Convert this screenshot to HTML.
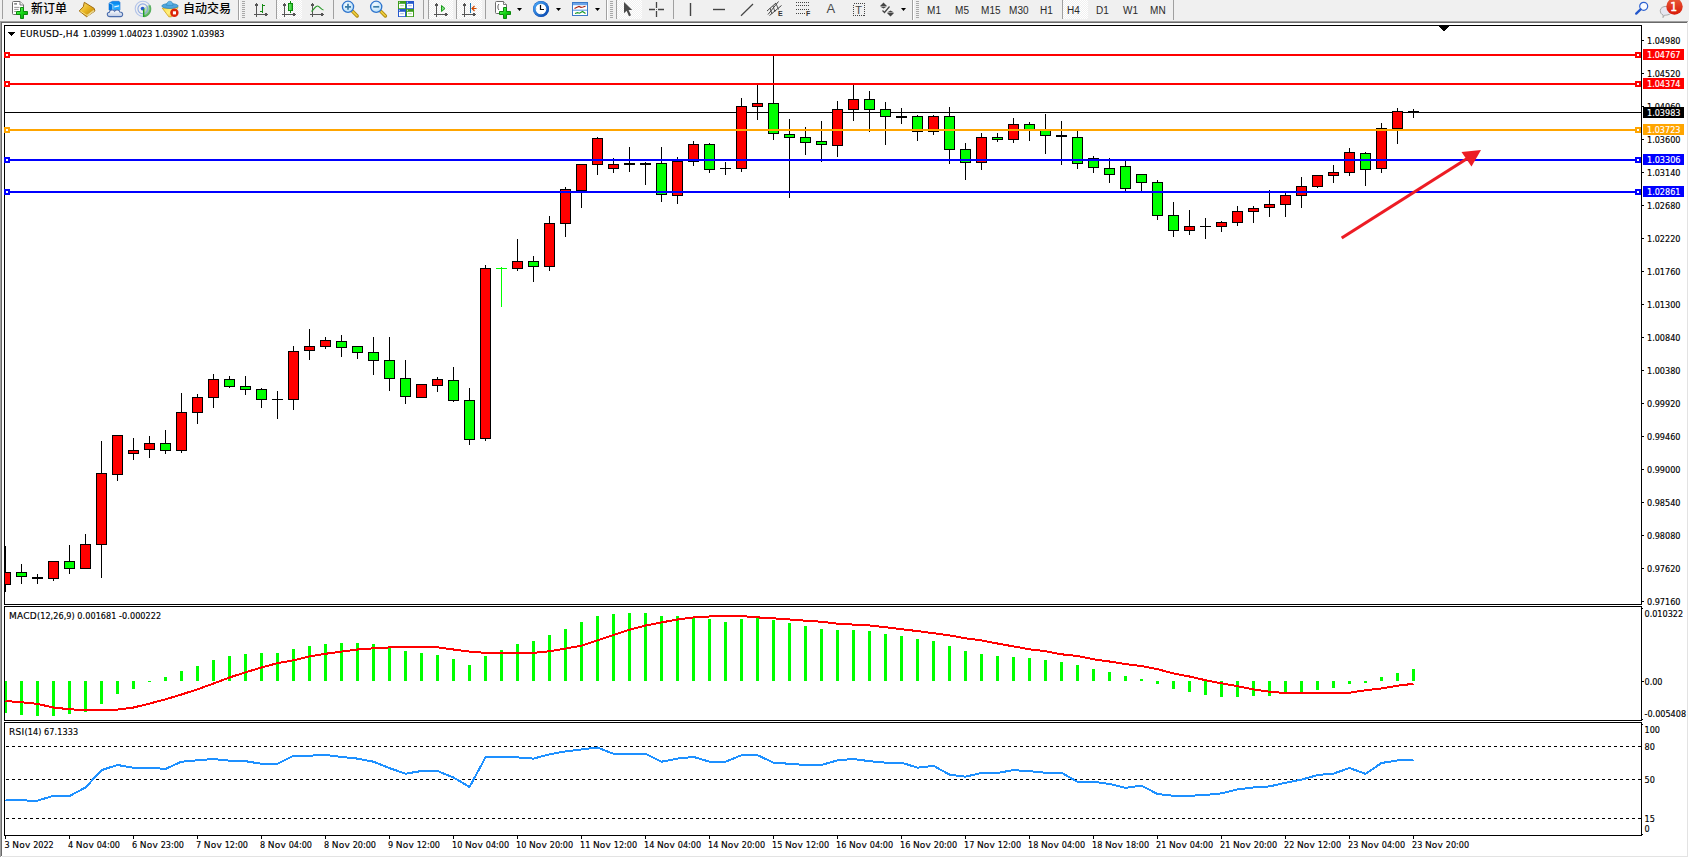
<!DOCTYPE html>
<html><head><meta charset="utf-8"><title>EURUSD-,H4</title>
<style>
html,body{margin:0;padding:0}
body{width:1689px;height:858px;background:#f0f0f0;position:relative;overflow:hidden;font-family:"Liberation Sans","Noto Sans CJK SC",sans-serif;color:#000}
#win{position:absolute;left:0;top:21px;width:1689px;height:837px;background:#fff}
#chart{position:absolute;left:0;top:0;width:1689px;height:858px}
.t{position:absolute;white-space:nowrap;font-family:"DejaVu Sans Condensed","Liberation Sans",sans-serif;font-size:9px;line-height:10px;height:10px;letter-spacing:0;-webkit-text-stroke:0.15px currentColor}
.tw{color:#fff}
.tt{letter-spacing:0}
.w{font-family:"DejaVu Sans","Liberation Sans",sans-serif;letter-spacing:.25px}
.tb{position:absolute;white-space:nowrap;font-size:10px;line-height:10px;color:#2a2a2a;letter-spacing:0.1px}
.cn{position:absolute;white-space:nowrap;font-size:12px;line-height:16px;color:#000;font-weight:500}
.ic{position:absolute;font-size:7px;line-height:8px;font-weight:bold;color:#333}
.ia{position:absolute;font-size:13px;line-height:15px;color:#4a4a4a}
.it{position:absolute;font-size:11px;line-height:12px;color:#444}
.bd{position:absolute;font-family:"DejaVu Sans Condensed","Liberation Sans",sans-serif;font-size:12px;line-height:12px;color:#fff;-webkit-text-stroke:0.45px #fff}
</style></head><body>

<div id="win"></div>
<svg id="chart" width="1689" height="858" viewBox="0 0 1689 858" shape-rendering="crispEdges">
<rect x="0" y="21" width="1688" height="1" fill="#a0a0a0"/>
<rect x="0" y="22" width="1687" height="1" fill="#696969"/>
<rect x="0" y="22" width="1" height="835" fill="#a0a0a0"/>
<rect x="1" y="22" width="1" height="834" fill="#696969"/>
<rect x="1687" y="22" width="1" height="835" fill="#e3e3e3"/>
<rect x="1688" y="21" width="1" height="837" fill="#fff"/>
<rect x="2" y="856" width="1686" height="1" fill="#e3e3e3"/>
<rect x="0" y="857" width="1689" height="1" fill="#fff"/>
<path d="M4.5 25.5H1641.5V604.5H4.5Z" fill="none" stroke="#000" stroke-width="1"/>
<path d="M4.5 606.5H1641.5V720.5H4.5Z" fill="none" stroke="#000" stroke-width="1"/>
<path d="M4.5 722.5H1641.5V835.5H4.5Z" fill="none" stroke="#000" stroke-width="1"/>
<rect x="5" y="112" width="1636" height="1" fill="#000"/>
<rect x="5" y="546" width="1" height="46" fill="#000"/>
<rect x="5" y="572" width="6" height="13" fill="#000"/>
<rect x="5" y="573" width="5" height="11" fill="#ff0000"/>
<rect x="21" y="564" width="1" height="20" fill="#000"/>
<rect x="16" y="572" width="11" height="5" fill="#000"/>
<rect x="17" y="573" width="9" height="3" fill="#00ff00"/>
<rect x="37" y="574" width="1" height="10" fill="#000"/>
<rect x="32" y="577" width="11" height="2" fill="#000"/>
<rect x="53" y="561" width="1" height="20" fill="#000"/>
<rect x="48" y="561" width="11" height="18" fill="#000"/>
<rect x="49" y="562" width="9" height="16" fill="#ff0000"/>
<rect x="69" y="545" width="1" height="29" fill="#000"/>
<rect x="64" y="561" width="11" height="8" fill="#000"/>
<rect x="65" y="562" width="9" height="6" fill="#00ff00"/>
<rect x="85" y="534" width="1" height="35" fill="#000"/>
<rect x="80" y="544" width="11" height="25" fill="#000"/>
<rect x="81" y="545" width="9" height="23" fill="#ff0000"/>
<rect x="101" y="441" width="1" height="137" fill="#000"/>
<rect x="96" y="473" width="11" height="72" fill="#000"/>
<rect x="97" y="474" width="9" height="70" fill="#ff0000"/>
<rect x="117" y="435" width="1" height="46" fill="#000"/>
<rect x="112" y="435" width="11" height="40" fill="#000"/>
<rect x="113" y="436" width="9" height="38" fill="#ff0000"/>
<rect x="133" y="438" width="1" height="22" fill="#000"/>
<rect x="128" y="450" width="11" height="4" fill="#000"/>
<rect x="129" y="451" width="9" height="2" fill="#ff0000"/>
<rect x="149" y="436" width="1" height="22" fill="#000"/>
<rect x="144" y="443" width="11" height="7" fill="#000"/>
<rect x="145" y="444" width="9" height="5" fill="#ff0000"/>
<rect x="165" y="430" width="1" height="24" fill="#000"/>
<rect x="160" y="443" width="11" height="8" fill="#000"/>
<rect x="161" y="444" width="9" height="6" fill="#00ff00"/>
<rect x="181" y="393" width="1" height="60" fill="#000"/>
<rect x="176" y="412" width="11" height="39" fill="#000"/>
<rect x="177" y="413" width="9" height="37" fill="#ff0000"/>
<rect x="197" y="394" width="1" height="30" fill="#000"/>
<rect x="192" y="397" width="11" height="16" fill="#000"/>
<rect x="193" y="398" width="9" height="14" fill="#ff0000"/>
<rect x="213" y="374" width="1" height="34" fill="#000"/>
<rect x="208" y="379" width="11" height="19" fill="#000"/>
<rect x="209" y="380" width="9" height="17" fill="#ff0000"/>
<rect x="229" y="376" width="1" height="12" fill="#000"/>
<rect x="224" y="379" width="11" height="8" fill="#000"/>
<rect x="225" y="380" width="9" height="6" fill="#00ff00"/>
<rect x="245" y="376" width="1" height="19" fill="#000"/>
<rect x="240" y="386" width="11" height="4" fill="#000"/>
<rect x="241" y="387" width="9" height="2" fill="#00ff00"/>
<rect x="261" y="388" width="1" height="20" fill="#000"/>
<rect x="256" y="389" width="11" height="11" fill="#000"/>
<rect x="257" y="390" width="9" height="9" fill="#00ff00"/>
<rect x="277" y="391" width="1" height="28" fill="#000"/>
<rect x="272" y="399" width="11" height="1" fill="#000"/>
<rect x="293" y="346" width="1" height="64" fill="#000"/>
<rect x="288" y="351" width="11" height="49" fill="#000"/>
<rect x="289" y="352" width="9" height="47" fill="#ff0000"/>
<rect x="309" y="329" width="1" height="31" fill="#000"/>
<rect x="304" y="346" width="11" height="5" fill="#000"/>
<rect x="305" y="347" width="9" height="3" fill="#ff0000"/>
<rect x="325" y="337" width="1" height="12" fill="#000"/>
<rect x="320" y="340" width="11" height="7" fill="#000"/>
<rect x="321" y="341" width="9" height="5" fill="#ff0000"/>
<rect x="341" y="335" width="1" height="22" fill="#000"/>
<rect x="336" y="341" width="11" height="7" fill="#000"/>
<rect x="337" y="342" width="9" height="5" fill="#00ff00"/>
<rect x="357" y="346" width="1" height="13" fill="#000"/>
<rect x="352" y="346" width="11" height="7" fill="#000"/>
<rect x="353" y="347" width="9" height="5" fill="#00ff00"/>
<rect x="373" y="337" width="1" height="38" fill="#000"/>
<rect x="368" y="352" width="11" height="9" fill="#000"/>
<rect x="369" y="353" width="9" height="7" fill="#00ff00"/>
<rect x="389" y="337" width="1" height="54" fill="#000"/>
<rect x="384" y="360" width="11" height="19" fill="#000"/>
<rect x="385" y="361" width="9" height="17" fill="#00ff00"/>
<rect x="405" y="360" width="1" height="44" fill="#000"/>
<rect x="400" y="378" width="11" height="19" fill="#000"/>
<rect x="401" y="379" width="9" height="17" fill="#00ff00"/>
<rect x="421" y="384" width="1" height="14" fill="#000"/>
<rect x="416" y="384" width="11" height="14" fill="#000"/>
<rect x="417" y="385" width="9" height="12" fill="#ff0000"/>
<rect x="437" y="377" width="1" height="15" fill="#000"/>
<rect x="432" y="379" width="11" height="7" fill="#000"/>
<rect x="433" y="380" width="9" height="5" fill="#ff0000"/>
<rect x="453" y="367" width="1" height="35" fill="#000"/>
<rect x="448" y="380" width="11" height="21" fill="#000"/>
<rect x="449" y="381" width="9" height="19" fill="#00ff00"/>
<rect x="469" y="388" width="1" height="57" fill="#000"/>
<rect x="464" y="400" width="11" height="40" fill="#000"/>
<rect x="465" y="401" width="9" height="38" fill="#00ff00"/>
<rect x="485" y="265" width="1" height="176" fill="#000"/>
<rect x="480" y="268" width="11" height="171" fill="#000"/>
<rect x="481" y="269" width="9" height="169" fill="#ff0000"/>
<rect x="501" y="267" width="1" height="40" fill="#00ff00"/>
<rect x="496" y="268" width="11" height="1" fill="#00ff00"/>
<rect x="517" y="239" width="1" height="32" fill="#000"/>
<rect x="512" y="261" width="11" height="8" fill="#000"/>
<rect x="513" y="262" width="9" height="6" fill="#ff0000"/>
<rect x="533" y="256" width="1" height="26" fill="#000"/>
<rect x="528" y="261" width="11" height="6" fill="#000"/>
<rect x="529" y="262" width="9" height="4" fill="#00ff00"/>
<rect x="549" y="216" width="1" height="55" fill="#000"/>
<rect x="544" y="223" width="11" height="44" fill="#000"/>
<rect x="545" y="224" width="9" height="42" fill="#ff0000"/>
<rect x="565" y="187" width="1" height="50" fill="#000"/>
<rect x="560" y="189" width="11" height="35" fill="#000"/>
<rect x="561" y="190" width="9" height="33" fill="#ff0000"/>
<rect x="581" y="164" width="1" height="44" fill="#000"/>
<rect x="576" y="164" width="11" height="27" fill="#000"/>
<rect x="577" y="165" width="9" height="25" fill="#ff0000"/>
<rect x="597" y="137" width="1" height="38" fill="#000"/>
<rect x="592" y="138" width="11" height="27" fill="#000"/>
<rect x="593" y="139" width="9" height="25" fill="#ff0000"/>
<rect x="613" y="158" width="1" height="15" fill="#000"/>
<rect x="608" y="164" width="11" height="5" fill="#000"/>
<rect x="609" y="165" width="9" height="3" fill="#ff0000"/>
<rect x="629" y="147" width="1" height="25" fill="#000"/>
<rect x="624" y="163" width="11" height="2" fill="#000"/>
<rect x="645" y="162" width="1" height="23" fill="#000"/>
<rect x="640" y="163" width="11" height="2" fill="#000"/>
<rect x="661" y="147" width="1" height="55" fill="#000"/>
<rect x="656" y="163" width="11" height="32" fill="#000"/>
<rect x="657" y="164" width="9" height="30" fill="#00ff00"/>
<rect x="677" y="157" width="1" height="47" fill="#000"/>
<rect x="672" y="161" width="11" height="35" fill="#000"/>
<rect x="673" y="162" width="9" height="33" fill="#ff0000"/>
<rect x="693" y="141" width="1" height="25" fill="#000"/>
<rect x="688" y="144" width="11" height="18" fill="#000"/>
<rect x="689" y="145" width="9" height="16" fill="#ff0000"/>
<rect x="709" y="143" width="1" height="30" fill="#000"/>
<rect x="704" y="144" width="11" height="26" fill="#000"/>
<rect x="705" y="145" width="9" height="24" fill="#00ff00"/>
<rect x="725" y="162" width="1" height="13" fill="#000"/>
<rect x="720" y="168" width="11" height="1" fill="#000"/>
<rect x="741" y="98" width="1" height="74" fill="#000"/>
<rect x="736" y="106" width="11" height="63" fill="#000"/>
<rect x="737" y="107" width="9" height="61" fill="#ff0000"/>
<rect x="757" y="85" width="1" height="35" fill="#000"/>
<rect x="752" y="103" width="11" height="4" fill="#000"/>
<rect x="753" y="104" width="9" height="2" fill="#ff0000"/>
<rect x="773" y="56" width="1" height="84" fill="#000"/>
<rect x="768" y="103" width="11" height="31" fill="#000"/>
<rect x="769" y="104" width="9" height="29" fill="#00ff00"/>
<rect x="789" y="119" width="1" height="79" fill="#000"/>
<rect x="784" y="134" width="11" height="4" fill="#000"/>
<rect x="785" y="135" width="9" height="2" fill="#00ff00"/>
<rect x="805" y="127" width="1" height="28" fill="#000"/>
<rect x="800" y="137" width="11" height="6" fill="#000"/>
<rect x="801" y="138" width="9" height="4" fill="#00ff00"/>
<rect x="821" y="121" width="1" height="41" fill="#000"/>
<rect x="816" y="141" width="11" height="4" fill="#000"/>
<rect x="817" y="142" width="9" height="2" fill="#00ff00"/>
<rect x="837" y="101" width="1" height="56" fill="#000"/>
<rect x="832" y="109" width="11" height="37" fill="#000"/>
<rect x="833" y="110" width="9" height="35" fill="#ff0000"/>
<rect x="853" y="85" width="1" height="36" fill="#000"/>
<rect x="848" y="99" width="11" height="11" fill="#000"/>
<rect x="849" y="100" width="9" height="9" fill="#ff0000"/>
<rect x="869" y="91" width="1" height="41" fill="#000"/>
<rect x="864" y="99" width="11" height="11" fill="#000"/>
<rect x="865" y="100" width="9" height="9" fill="#00ff00"/>
<rect x="885" y="102" width="1" height="43" fill="#000"/>
<rect x="880" y="109" width="11" height="8" fill="#000"/>
<rect x="881" y="110" width="9" height="6" fill="#00ff00"/>
<rect x="901" y="108" width="1" height="16" fill="#000"/>
<rect x="896" y="116" width="11" height="2" fill="#000"/>
<rect x="917" y="115" width="1" height="26" fill="#000"/>
<rect x="912" y="116" width="11" height="16" fill="#000"/>
<rect x="913" y="117" width="9" height="14" fill="#00ff00"/>
<rect x="933" y="115" width="1" height="20" fill="#000"/>
<rect x="928" y="116" width="11" height="16" fill="#000"/>
<rect x="929" y="117" width="9" height="14" fill="#ff0000"/>
<rect x="949" y="107" width="1" height="57" fill="#000"/>
<rect x="944" y="116" width="11" height="34" fill="#000"/>
<rect x="945" y="117" width="9" height="32" fill="#00ff00"/>
<rect x="965" y="143" width="1" height="37" fill="#000"/>
<rect x="960" y="149" width="11" height="14" fill="#000"/>
<rect x="961" y="150" width="9" height="12" fill="#00ff00"/>
<rect x="981" y="133" width="1" height="37" fill="#000"/>
<rect x="976" y="137" width="11" height="26" fill="#000"/>
<rect x="977" y="138" width="9" height="24" fill="#ff0000"/>
<rect x="997" y="133" width="1" height="9" fill="#000"/>
<rect x="992" y="137" width="11" height="3" fill="#000"/>
<rect x="993" y="138" width="9" height="1" fill="#00ff00"/>
<rect x="1013" y="118" width="1" height="25" fill="#000"/>
<rect x="1008" y="124" width="11" height="16" fill="#000"/>
<rect x="1009" y="125" width="9" height="14" fill="#ff0000"/>
<rect x="1029" y="122" width="1" height="19" fill="#000"/>
<rect x="1024" y="124" width="11" height="7" fill="#000"/>
<rect x="1025" y="125" width="9" height="5" fill="#00ff00"/>
<rect x="1045" y="114" width="1" height="40" fill="#000"/>
<rect x="1040" y="129" width="11" height="7" fill="#000"/>
<rect x="1041" y="130" width="9" height="5" fill="#00ff00"/>
<rect x="1061" y="121" width="1" height="44" fill="#000"/>
<rect x="1056" y="135" width="11" height="2" fill="#000"/>
<rect x="1077" y="131" width="1" height="38" fill="#000"/>
<rect x="1072" y="137" width="11" height="27" fill="#000"/>
<rect x="1073" y="138" width="9" height="25" fill="#00ff00"/>
<rect x="1093" y="156" width="1" height="17" fill="#000"/>
<rect x="1088" y="158" width="11" height="10" fill="#000"/>
<rect x="1089" y="159" width="9" height="8" fill="#00ff00"/>
<rect x="1109" y="158" width="1" height="25" fill="#000"/>
<rect x="1104" y="168" width="11" height="7" fill="#000"/>
<rect x="1105" y="169" width="9" height="5" fill="#00ff00"/>
<rect x="1125" y="161" width="1" height="30" fill="#000"/>
<rect x="1120" y="166" width="11" height="23" fill="#000"/>
<rect x="1121" y="167" width="9" height="21" fill="#00ff00"/>
<rect x="1141" y="174" width="1" height="17" fill="#000"/>
<rect x="1136" y="174" width="11" height="9" fill="#000"/>
<rect x="1137" y="175" width="9" height="7" fill="#00ff00"/>
<rect x="1157" y="180" width="1" height="40" fill="#000"/>
<rect x="1152" y="182" width="11" height="34" fill="#000"/>
<rect x="1153" y="183" width="9" height="32" fill="#00ff00"/>
<rect x="1173" y="202" width="1" height="35" fill="#000"/>
<rect x="1168" y="215" width="11" height="16" fill="#000"/>
<rect x="1169" y="216" width="9" height="14" fill="#00ff00"/>
<rect x="1189" y="210" width="1" height="25" fill="#000"/>
<rect x="1184" y="226" width="11" height="5" fill="#000"/>
<rect x="1185" y="227" width="9" height="3" fill="#ff0000"/>
<rect x="1205" y="218" width="1" height="21" fill="#000"/>
<rect x="1200" y="226" width="11" height="1" fill="#000"/>
<rect x="1221" y="221" width="1" height="11" fill="#000"/>
<rect x="1216" y="222" width="11" height="5" fill="#000"/>
<rect x="1217" y="223" width="9" height="3" fill="#ff0000"/>
<rect x="1237" y="206" width="1" height="20" fill="#000"/>
<rect x="1232" y="211" width="11" height="12" fill="#000"/>
<rect x="1233" y="212" width="9" height="10" fill="#ff0000"/>
<rect x="1253" y="206" width="1" height="17" fill="#000"/>
<rect x="1248" y="208" width="11" height="4" fill="#000"/>
<rect x="1249" y="209" width="9" height="2" fill="#ff0000"/>
<rect x="1269" y="190" width="1" height="27" fill="#000"/>
<rect x="1264" y="204" width="11" height="4" fill="#000"/>
<rect x="1265" y="205" width="9" height="2" fill="#ff0000"/>
<rect x="1285" y="193" width="1" height="24" fill="#000"/>
<rect x="1280" y="195" width="11" height="10" fill="#000"/>
<rect x="1281" y="196" width="9" height="8" fill="#ff0000"/>
<rect x="1301" y="177" width="1" height="31" fill="#000"/>
<rect x="1296" y="186" width="11" height="10" fill="#000"/>
<rect x="1297" y="187" width="9" height="8" fill="#ff0000"/>
<rect x="1317" y="175" width="1" height="13" fill="#000"/>
<rect x="1312" y="175" width="11" height="12" fill="#000"/>
<rect x="1313" y="176" width="9" height="10" fill="#ff0000"/>
<rect x="1333" y="165" width="1" height="18" fill="#000"/>
<rect x="1328" y="172" width="11" height="4" fill="#000"/>
<rect x="1329" y="173" width="9" height="2" fill="#ff0000"/>
<rect x="1349" y="148" width="1" height="28" fill="#000"/>
<rect x="1344" y="152" width="11" height="21" fill="#000"/>
<rect x="1345" y="153" width="9" height="19" fill="#ff0000"/>
<rect x="1365" y="152" width="1" height="34" fill="#000"/>
<rect x="1360" y="153" width="11" height="17" fill="#000"/>
<rect x="1361" y="154" width="9" height="15" fill="#00ff00"/>
<rect x="1381" y="123" width="1" height="50" fill="#000"/>
<rect x="1376" y="128" width="11" height="41" fill="#000"/>
<rect x="1377" y="129" width="9" height="39" fill="#ff0000"/>
<rect x="1397" y="108" width="1" height="36" fill="#000"/>
<rect x="1392" y="111" width="11" height="18" fill="#000"/>
<rect x="1393" y="112" width="9" height="16" fill="#ff0000"/>
<rect x="1413" y="109" width="1" height="9" fill="#000"/>
<rect x="1408" y="111" width="11" height="1" fill="#000"/>
<rect x="5" y="54" width="1636" height="2" fill="#ff0000"/>
<rect x="4" y="52" width="6" height="6" fill="#ff0000"/>
<rect x="6" y="54" width="2" height="2" fill="#fff"/>
<rect x="1635" y="52" width="6" height="6" fill="#ff0000"/>
<rect x="1637" y="54" width="2" height="2" fill="#fff"/>
<rect x="5" y="83" width="1636" height="2" fill="#ff0000"/>
<rect x="4" y="81" width="6" height="6" fill="#ff0000"/>
<rect x="6" y="83" width="2" height="2" fill="#fff"/>
<rect x="1635" y="81" width="6" height="6" fill="#ff0000"/>
<rect x="1637" y="83" width="2" height="2" fill="#fff"/>
<rect x="5" y="129" width="1636" height="2" fill="#ffa500"/>
<rect x="4" y="127" width="6" height="6" fill="#ffa500"/>
<rect x="6" y="129" width="2" height="2" fill="#fff"/>
<rect x="1635" y="127" width="6" height="6" fill="#ffa500"/>
<rect x="1637" y="129" width="2" height="2" fill="#fff"/>
<rect x="5" y="159" width="1636" height="2" fill="#0000ff"/>
<rect x="4" y="157" width="6" height="6" fill="#0000ff"/>
<rect x="6" y="159" width="2" height="2" fill="#fff"/>
<rect x="1635" y="157" width="6" height="6" fill="#0000ff"/>
<rect x="1637" y="159" width="2" height="2" fill="#fff"/>
<rect x="5" y="191" width="1636" height="2" fill="#0000ff"/>
<rect x="4" y="189" width="6" height="6" fill="#0000ff"/>
<rect x="6" y="191" width="2" height="2" fill="#fff"/>
<rect x="1635" y="189" width="6" height="6" fill="#0000ff"/>
<rect x="1637" y="191" width="2" height="2" fill="#fff"/>
<g shape-rendering="geometricPrecision"><line x1="1341.7" y1="238" x2="1468" y2="158" stroke="#ed1c24" stroke-width="3.2"/><polygon points="1481,150 1461.5,152 1471.5,166.5" fill="#ed1c24"/></g>
<rect x="1643" y="49" width="41" height="11" fill="#ff0000"/>
<rect x="1643" y="78" width="41" height="11" fill="#ff0000"/>
<rect x="1643" y="124" width="41" height="11" fill="#ffa500"/>
<rect x="1643" y="154" width="41" height="11" fill="#0000ff"/>
<rect x="1643" y="186" width="41" height="11" fill="#0000ff"/>
<rect x="1643" y="107" width="41" height="11" fill="#000"/>
<rect x="1642" y="40" width="2" height="1" fill="#000"/>
<rect x="1642" y="73" width="2" height="1" fill="#000"/>
<rect x="1642" y="106" width="2" height="1" fill="#000"/>
<rect x="1642" y="139" width="2" height="1" fill="#000"/>
<rect x="1642" y="172" width="2" height="1" fill="#000"/>
<rect x="1642" y="205" width="2" height="1" fill="#000"/>
<rect x="1642" y="238" width="2" height="1" fill="#000"/>
<rect x="1642" y="271" width="2" height="1" fill="#000"/>
<rect x="1642" y="304" width="2" height="1" fill="#000"/>
<rect x="1642" y="337" width="2" height="1" fill="#000"/>
<rect x="1642" y="370" width="2" height="1" fill="#000"/>
<rect x="1642" y="403" width="2" height="1" fill="#000"/>
<rect x="1642" y="436" width="2" height="1" fill="#000"/>
<rect x="1642" y="469" width="2" height="1" fill="#000"/>
<rect x="1642" y="502" width="2" height="1" fill="#000"/>
<rect x="1642" y="535" width="2" height="1" fill="#000"/>
<rect x="1642" y="568" width="2" height="1" fill="#000"/>
<rect x="1642" y="601" width="2" height="1" fill="#000"/>
<polygon points="1438,26 1449,26 1443.5,31.5" fill="#000"/>
<polygon points="8,32 15,32 11.5,36" fill="#000" shape-rendering="crispEdges"/>
<rect x="5" y="681" width="2" height="32" fill="#00ff00"/>
<rect x="20" y="681" width="3" height="34" fill="#00ff00"/>
<rect x="36" y="681" width="3" height="35" fill="#00ff00"/>
<rect x="52" y="681" width="3" height="35" fill="#00ff00"/>
<rect x="68" y="681" width="3" height="33" fill="#00ff00"/>
<rect x="84" y="681" width="3" height="31" fill="#00ff00"/>
<rect x="100" y="681" width="3" height="23" fill="#00ff00"/>
<rect x="116" y="681" width="3" height="13" fill="#00ff00"/>
<rect x="132" y="681" width="3" height="8" fill="#00ff00"/>
<rect x="148" y="681" width="3" height="1" fill="#00ff00"/>
<rect x="164" y="677" width="3" height="4" fill="#00ff00"/>
<rect x="180" y="671" width="3" height="10" fill="#00ff00"/>
<rect x="196" y="666" width="3" height="15" fill="#00ff00"/>
<rect x="212" y="660" width="3" height="21" fill="#00ff00"/>
<rect x="228" y="656" width="3" height="25" fill="#00ff00"/>
<rect x="244" y="654" width="3" height="27" fill="#00ff00"/>
<rect x="260" y="653" width="3" height="28" fill="#00ff00"/>
<rect x="276" y="653" width="3" height="28" fill="#00ff00"/>
<rect x="292" y="649" width="3" height="32" fill="#00ff00"/>
<rect x="308" y="646" width="3" height="35" fill="#00ff00"/>
<rect x="324" y="644" width="3" height="37" fill="#00ff00"/>
<rect x="340" y="643" width="3" height="38" fill="#00ff00"/>
<rect x="356" y="643" width="3" height="38" fill="#00ff00"/>
<rect x="372" y="644" width="3" height="37" fill="#00ff00"/>
<rect x="388" y="647" width="3" height="34" fill="#00ff00"/>
<rect x="404" y="651" width="3" height="30" fill="#00ff00"/>
<rect x="420" y="653" width="3" height="28" fill="#00ff00"/>
<rect x="436" y="655" width="3" height="26" fill="#00ff00"/>
<rect x="452" y="659" width="3" height="22" fill="#00ff00"/>
<rect x="468" y="665" width="3" height="16" fill="#00ff00"/>
<rect x="484" y="656" width="3" height="25" fill="#00ff00"/>
<rect x="500" y="650" width="3" height="31" fill="#00ff00"/>
<rect x="516" y="644" width="3" height="37" fill="#00ff00"/>
<rect x="532" y="641" width="3" height="40" fill="#00ff00"/>
<rect x="548" y="635" width="3" height="46" fill="#00ff00"/>
<rect x="564" y="629" width="3" height="52" fill="#00ff00"/>
<rect x="580" y="622" width="3" height="59" fill="#00ff00"/>
<rect x="596" y="616" width="3" height="65" fill="#00ff00"/>
<rect x="612" y="614" width="3" height="67" fill="#00ff00"/>
<rect x="628" y="613" width="3" height="68" fill="#00ff00"/>
<rect x="644" y="613" width="3" height="68" fill="#00ff00"/>
<rect x="660" y="616" width="3" height="65" fill="#00ff00"/>
<rect x="676" y="616" width="3" height="65" fill="#00ff00"/>
<rect x="692" y="617" width="3" height="64" fill="#00ff00"/>
<rect x="708" y="619" width="3" height="62" fill="#00ff00"/>
<rect x="724" y="622" width="3" height="59" fill="#00ff00"/>
<rect x="740" y="619" width="3" height="62" fill="#00ff00"/>
<rect x="756" y="618" width="3" height="63" fill="#00ff00"/>
<rect x="772" y="620" width="3" height="61" fill="#00ff00"/>
<rect x="788" y="623" width="3" height="58" fill="#00ff00"/>
<rect x="804" y="626" width="3" height="55" fill="#00ff00"/>
<rect x="820" y="629" width="3" height="52" fill="#00ff00"/>
<rect x="836" y="630" width="3" height="51" fill="#00ff00"/>
<rect x="852" y="630" width="3" height="51" fill="#00ff00"/>
<rect x="868" y="631" width="3" height="50" fill="#00ff00"/>
<rect x="884" y="634" width="3" height="47" fill="#00ff00"/>
<rect x="900" y="636" width="3" height="45" fill="#00ff00"/>
<rect x="916" y="639" width="3" height="42" fill="#00ff00"/>
<rect x="932" y="641" width="3" height="40" fill="#00ff00"/>
<rect x="948" y="646" width="3" height="35" fill="#00ff00"/>
<rect x="964" y="651" width="3" height="30" fill="#00ff00"/>
<rect x="980" y="654" width="3" height="27" fill="#00ff00"/>
<rect x="996" y="656" width="3" height="25" fill="#00ff00"/>
<rect x="1012" y="657" width="3" height="24" fill="#00ff00"/>
<rect x="1028" y="658" width="3" height="23" fill="#00ff00"/>
<rect x="1044" y="660" width="3" height="21" fill="#00ff00"/>
<rect x="1060" y="662" width="3" height="19" fill="#00ff00"/>
<rect x="1076" y="665" width="3" height="16" fill="#00ff00"/>
<rect x="1092" y="669" width="3" height="12" fill="#00ff00"/>
<rect x="1108" y="672" width="3" height="9" fill="#00ff00"/>
<rect x="1124" y="676" width="3" height="5" fill="#00ff00"/>
<rect x="1140" y="679" width="3" height="2" fill="#00ff00"/>
<rect x="1156" y="681" width="3" height="3" fill="#00ff00"/>
<rect x="1172" y="681" width="3" height="8" fill="#00ff00"/>
<rect x="1188" y="681" width="3" height="11" fill="#00ff00"/>
<rect x="1204" y="681" width="3" height="14" fill="#00ff00"/>
<rect x="1220" y="681" width="3" height="16" fill="#00ff00"/>
<rect x="1236" y="681" width="3" height="16" fill="#00ff00"/>
<rect x="1252" y="681" width="3" height="15" fill="#00ff00"/>
<rect x="1268" y="681" width="3" height="15" fill="#00ff00"/>
<rect x="1284" y="681" width="3" height="13" fill="#00ff00"/>
<rect x="1300" y="681" width="3" height="12" fill="#00ff00"/>
<rect x="1316" y="681" width="3" height="9" fill="#00ff00"/>
<rect x="1332" y="681" width="3" height="7" fill="#00ff00"/>
<rect x="1348" y="681" width="3" height="3" fill="#00ff00"/>
<rect x="1364" y="681" width="3" height="2" fill="#00ff00"/>
<rect x="1380" y="677" width="3" height="4" fill="#00ff00"/>
<rect x="1396" y="673" width="3" height="8" fill="#00ff00"/>
<rect x="1412" y="669" width="3" height="12" fill="#00ff00"/>
<polyline points="5.5,701 21.5,702.2 37.5,703.9 53.5,707.5 69.5,709.3 85.5,710 101.5,710 117.5,709.6 133.5,707.5 149.5,703.6 165.5,699.3 181.5,694.5 197.5,689.3 213.5,683.5 229.5,677.5 245.5,672.3 261.5,667.5 277.5,663.2 293.5,660.3 309.5,656.4 325.5,653.8 341.5,651.6 357.5,649.5 373.5,648.3 389.5,647.4 405.5,646.9 421.5,646.9 437.5,647.3 453.5,649.5 469.5,651.6 485.5,652.9 501.5,652.9 517.5,652.9 533.5,652.9 549.5,651.2 565.5,648.6 581.5,645.6 597.5,640.4 613.5,634.9 629.5,629.8 645.5,625.5 661.5,622.4 677.5,619.5 693.5,617.4 709.5,616.5 725.5,615.8 741.5,616 757.5,617.4 773.5,618.3 789.5,619.5 805.5,620.7 821.5,621.7 837.5,623.7 853.5,624.6 869.5,625.5 885.5,627.2 901.5,629.2 917.5,631.1 933.5,633.2 949.5,635.4 965.5,638.3 981.5,640.4 997.5,643.5 1013.5,646.4 1029.5,649.3 1045.5,651.2 1061.5,654.3 1077.5,656 1093.5,659.3 1109.5,661.5 1125.5,664.1 1141.5,666 1157.5,669.2 1173.5,673.4 1189.5,676.5 1205.5,680.2 1221.5,683.3 1237.5,686.2 1253.5,689.4 1269.5,691.7 1285.5,693 1301.5,693 1317.5,693 1333.5,693 1349.5,692.7 1365.5,690.3 1381.5,688.4 1397.5,685.7 1413.5,683.8" fill="none" stroke="#ff0000" stroke-width="2" />
<rect x="1642" y="681" width="2" height="1" fill="#000"/>
<rect x="1642" y="608" width="1" height="1" fill="#000"/>
<rect x="1642" y="719" width="1" height="1" fill="#000"/>
<rect x="1642" y="724" width="1" height="1" fill="#000"/>
<rect x="1642" y="834" width="1" height="1" fill="#000"/>
<line x1="6" y1="746.5" x2="1641" y2="746.5" stroke="#000" stroke-width="1" stroke-dasharray="3 3"/>
<line x1="6" y1="779.5" x2="1641" y2="779.5" stroke="#000" stroke-width="1" stroke-dasharray="3 3"/>
<line x1="6" y1="818.5" x2="1641" y2="818.5" stroke="#000" stroke-width="1" stroke-dasharray="3 3"/>
<polyline points="5.5,799.8 21.5,800.4 37.5,800.7 53.5,795.8 69.5,796 85.5,787.5 101.5,770.1 117.5,765 133.5,767.7 149.5,767.7 165.5,768.9 181.5,761.7 197.5,760.3 213.5,759 229.5,760.7 245.5,761.2 261.5,763.8 277.5,763.8 293.5,755.7 309.5,755.7 325.5,754.9 341.5,756.9 357.5,758.6 373.5,761.7 389.5,768.1 405.5,773.7 421.5,771 437.5,771 453.5,777.5 469.5,787 485.5,757.4 501.5,757.4 517.5,757.4 533.5,758.6 549.5,754.3 565.5,751.4 581.5,749.5 597.5,747.5 613.5,753.8 629.5,753.8 645.5,753.8 661.5,761.7 677.5,758.6 693.5,756.9 709.5,761.7 725.5,761.7 741.5,755.2 757.5,755.2 773.5,762.6 789.5,763.8 805.5,765 821.5,765 837.5,760.3 853.5,759 869.5,761.2 885.5,762.6 901.5,762.6 917.5,767.7 933.5,765.8 949.5,774.6 965.5,776.7 981.5,772.9 997.5,772.9 1013.5,770.1 1029.5,771.2 1045.5,772.7 1061.5,772.7 1077.5,781.8 1093.5,781.8 1109.5,784 1125.5,787.8 1141.5,785.7 1157.5,794 1173.5,795.8 1189.5,795.8 1205.5,794.9 1221.5,793.4 1237.5,789.4 1253.5,787.4 1269.5,786.4 1285.5,782.8 1301.5,779.7 1317.5,775 1333.5,773.6 1349.5,768 1365.5,773.8 1381.5,763 1397.5,760.4 1413.5,759.8" fill="none" stroke="#1e90ff" stroke-width="2"/>
<rect x="5" y="836" width="1" height="3" fill="#000"/>
<rect x="69" y="836" width="1" height="3" fill="#000"/>
<rect x="133" y="836" width="1" height="3" fill="#000"/>
<rect x="197" y="836" width="1" height="3" fill="#000"/>
<rect x="261" y="836" width="1" height="3" fill="#000"/>
<rect x="325" y="836" width="1" height="3" fill="#000"/>
<rect x="389" y="836" width="1" height="3" fill="#000"/>
<rect x="453" y="836" width="1" height="3" fill="#000"/>
<rect x="517" y="836" width="1" height="3" fill="#000"/>
<rect x="581" y="836" width="1" height="3" fill="#000"/>
<rect x="645" y="836" width="1" height="3" fill="#000"/>
<rect x="709" y="836" width="1" height="3" fill="#000"/>
<rect x="773" y="836" width="1" height="3" fill="#000"/>
<rect x="837" y="836" width="1" height="3" fill="#000"/>
<rect x="901" y="836" width="1" height="3" fill="#000"/>
<rect x="965" y="836" width="1" height="3" fill="#000"/>
<rect x="1029" y="836" width="1" height="3" fill="#000"/>
<rect x="1093" y="836" width="1" height="3" fill="#000"/>
<rect x="1157" y="836" width="1" height="3" fill="#000"/>
<rect x="1221" y="836" width="1" height="3" fill="#000"/>
<rect x="1285" y="836" width="1" height="3" fill="#000"/>
<rect x="1349" y="836" width="1" height="3" fill="#000"/>
<rect x="1413" y="836" width="1" height="3" fill="#000"/>
</svg>
<span class="t" style="left:20px;top:29px;"><span class="w">EURUSD-,H4</span></span>
<span class="t" style="left:83px;top:29px;">1.03999</span>
<span class="t" style="left:119px;top:29px;">1.04023</span>
<span class="t" style="left:155px;top:29px;">1.03902</span>
<span class="t" style="left:191px;top:29px;">1.03983</span>
<span class="t" style="left:9px;top:611px;letter-spacing:.06px"><span class="w">MACD</span>(12,26,9) 0.001681 -0.000222</span>
<span class="t" style="left:9px;top:727px;letter-spacing:.1px"><span class="w">RSI</span>(14) 67.1333</span>
<span class="t" style="left:1647px;top:36px;">1.04980</span>
<span class="t" style="left:1647px;top:69px;">1.04520</span>
<span class="t" style="left:1647px;top:102px;">1.04060</span>
<span class="t" style="left:1647px;top:135px;">1.03600</span>
<span class="t" style="left:1647px;top:168px;">1.03140</span>
<span class="t" style="left:1647px;top:201px;">1.02680</span>
<span class="t" style="left:1647px;top:234px;">1.02220</span>
<span class="t" style="left:1647px;top:267px;">1.01760</span>
<span class="t" style="left:1647px;top:300px;">1.01300</span>
<span class="t" style="left:1647px;top:333px;">1.00840</span>
<span class="t" style="left:1647px;top:366px;">1.00380</span>
<span class="t" style="left:1647px;top:399px;">0.99920</span>
<span class="t" style="left:1647px;top:432px;">0.99460</span>
<span class="t" style="left:1647px;top:465px;">0.99000</span>
<span class="t" style="left:1647px;top:498px;">0.98540</span>
<span class="t" style="left:1647px;top:531px;">0.98080</span>
<span class="t" style="left:1647px;top:564px;">0.97620</span>
<span class="t" style="left:1647px;top:597px;">0.97160</span>
<span class="t tw" style="left:1647px;top:50px;">1.04767</span>
<span class="t tw" style="left:1647px;top:79px;">1.04374</span>
<span class="t tw" style="left:1647px;top:125px;">1.03723</span>
<span class="t tw" style="left:1647px;top:155px;">1.03306</span>
<span class="t tw" style="left:1647px;top:187px;">1.02861</span>
<span class="t tw" style="left:1647px;top:108px;">1.03983</span>
<span class="t" style="left:1644.5px;top:609px;">0.010322</span>
<span class="t" style="left:1644.5px;top:677px;">0.00</span>
<span class="t" style="left:1644.5px;top:709px;">-0.005408</span>
<span class="t" style="left:1644.5px;top:725px;">100</span>
<span class="t" style="left:1644.5px;top:742px;">80</span>
<span class="t" style="left:1644.5px;top:775px;">50</span>
<span class="t" style="left:1644.5px;top:814px;">15</span>
<span class="t" style="left:1644.5px;top:824px;">0</span>
<span class="t tt" style="left:4.5px;top:840px;">3 <span class="w">Nov</span> 2022</span>
<span class="t tt" style="left:68px;top:840px;">4 <span class="w">Nov</span> 04:00</span>
<span class="t tt" style="left:132px;top:840px;">6 <span class="w">Nov</span> 23:00</span>
<span class="t tt" style="left:196px;top:840px;">7 <span class="w">Nov</span> 12:00</span>
<span class="t tt" style="left:260px;top:840px;">8 <span class="w">Nov</span> 04:00</span>
<span class="t tt" style="left:324px;top:840px;">8 <span class="w">Nov</span> 20:00</span>
<span class="t tt" style="left:388px;top:840px;">9 <span class="w">Nov</span> 12:00</span>
<span class="t tt" style="left:452px;top:840px;">10 <span class="w">Nov</span> 04:00</span>
<span class="t tt" style="left:516px;top:840px;">10 <span class="w">Nov</span> 20:00</span>
<span class="t tt" style="left:580px;top:840px;">11 <span class="w">Nov</span> 12:00</span>
<span class="t tt" style="left:644px;top:840px;">14 <span class="w">Nov</span> 04:00</span>
<span class="t tt" style="left:708px;top:840px;">14 <span class="w">Nov</span> 20:00</span>
<span class="t tt" style="left:772px;top:840px;">15 <span class="w">Nov</span> 12:00</span>
<span class="t tt" style="left:836px;top:840px;">16 <span class="w">Nov</span> 04:00</span>
<span class="t tt" style="left:900px;top:840px;">16 <span class="w">Nov</span> 20:00</span>
<span class="t tt" style="left:964px;top:840px;">17 <span class="w">Nov</span> 12:00</span>
<span class="t tt" style="left:1028px;top:840px;">18 <span class="w">Nov</span> 04:00</span>
<span class="t tt" style="left:1092px;top:840px;">18 <span class="w">Nov</span> 18:00</span>
<span class="t tt" style="left:1156px;top:840px;">21 <span class="w">Nov</span> 04:00</span>
<span class="t tt" style="left:1220px;top:840px;">21 <span class="w">Nov</span> 20:00</span>
<span class="t tt" style="left:1284px;top:840px;">22 <span class="w">Nov</span> 12:00</span>
<span class="t tt" style="left:1348px;top:840px;">23 <span class="w">Nov</span> 04:00</span>
<span class="t tt" style="left:1412px;top:840px;">23 <span class="w">Nov</span> 20:00</span>
<svg id="tbsvg" width="1689" height="22" viewBox="0 0 1689 22" style="position:absolute;left:0;top:0">
<defs>
<pattern id="chk" width="2" height="2" patternUnits="userSpaceOnUse"><rect width="2" height="2" fill="#f0f0f0"/><rect width="1" height="1" fill="#fff"/><rect x="1" y="1" width="1" height="1" fill="#fff"/></pattern>
<linearGradient id="gplus" x1="0" y1="0" x2="1" y2="1"><stop offset="0" stop-color="#7dff7d"/><stop offset="0.5" stop-color="#12d612"/><stop offset="1" stop-color="#0a8f0a"/></linearGradient>
<linearGradient id="gold" x1="0" y1="0" x2="1" y2="1"><stop offset="0" stop-color="#ffe680"/><stop offset="0.5" stop-color="#e8b420"/><stop offset="1" stop-color="#b07808"/></linearGradient>
<linearGradient id="gcan" x1="0" y1="0" x2="1" y2="0"><stop offset="0" stop-color="#8cf08c"/><stop offset="1" stop-color="#18c018"/></linearGradient>
<radialGradient id="lens" cx="0.4" cy="0.35" r="0.7"><stop offset="0" stop-color="#f4fbff"/><stop offset="1" stop-color="#b4defa"/></radialGradient>
<linearGradient id="badge" x1="0" y1="0" x2="0" y2="1"><stop offset="0" stop-color="#e85a38"/><stop offset="1" stop-color="#d81808"/></linearGradient>
<linearGradient id="clk" x1="0" y1="0" x2="1" y2="1"><stop offset="0" stop-color="#4aa8f8"/><stop offset="1" stop-color="#0848b0"/></linearGradient>
<g id="axes" fill="#555" shape-rendering="crispEdges"><rect x="2" y="3" width="1" height="14"/><rect x="1" y="4" width="3" height="2"/><rect x="0" y="14" width="14" height="1"/><rect x="11" y="13" width="2" height="3"/></g>
<g id="dd"><path d="M0 0H5L2.5 3Z" fill="#000"/></g>
<g id="zoomg"><path d="M4.5 4.5L9.2 9.2" stroke="#b08a10" stroke-width="3.4" stroke-linecap="round"/><path d="M4.8 4.8L9 9" stroke="#f0d040" stroke-width="1.6" stroke-linecap="round"/><circle cx="0" cy="0" r="5.6" fill="url(#lens)" stroke="#2f74cc" stroke-width="1.3"/></g>
<linearGradient id="cloudg" x1="0" y1="0" x2="0" y2="1"><stop offset="0" stop-color="#fff"/><stop offset="1" stop-color="#bccae4"/></linearGradient><linearGradient id="sweep" x1="0" y1="0" x2="1" y2="1"><stop offset="0" stop-color="#d8ecd0" stop-opacity="0.5"/><stop offset="1" stop-color="#38a838" stop-opacity="0.95"/></linearGradient><linearGradient id="face" x1="0" y1="0" x2="1" y2="1"><stop offset="0" stop-color="#ffe040"/><stop offset="0.5" stop-color="#fff080"/><stop offset="1" stop-color="#e8a818"/></linearGradient>
</defs>
<rect x="2" y="0" width="1" height="19" fill="#a0a0a0" shape-rendering="crispEdges"/>
<path d="M13.5 1.5H20L23.5 5V13.5Q23.5 14.5 22.5 14.5H13.5Q12.5 14.5 12.5 13.5V2.5Q12.5 1.5 13.5 1.5Z" fill="#fff" stroke="#6c6c6c" stroke-width="1"/><path d="M20 1.5V5H23.5" fill="#f4f4f4" stroke="#6c6c6c" stroke-width="0.9"/>
<rect x="14.2" y="3" width="2.8" height="1.7" fill="#8c8c8c"/><path d="M14.2 7.4H19.5M14.2 9.4H18.7M14.2 11.5H16" stroke="#8c8c8c" stroke-width="0.9"/>
<path d="M20.5 7.5H23.5V11.5H27.5V14.5H23.5V18.5H20.5V14.5H16.5V11.5H20.5Z" fill="url(#gplus)" stroke="#0a8a0a" stroke-width="1"/>
<path d="M84.3 2.3L94.2 8.4L94.9 11L86.6 16.7L79.2 10.9L83.3 6.8Z" fill="url(#gold)" stroke="#a06c10" stroke-width="1" stroke-linejoin="round"/>
<path d="M80.5 11.3L87 15.3L93.8 10.2" fill="none" stroke="#fff0a0" stroke-width="0.9" opacity="0.8"/><path d="M87.3 16L94.3 10.6" fill="none" stroke="#e8dca0" stroke-width="1.1"/>
<path d="M109 3L112.5 1.3H119L120 2.5V10H109Z" fill="#0a8cf0" stroke="#1a6cd0" stroke-width="0.6"/><path d="M109 3L112.8 4.5V10H109Z" fill="#0078e0"/><path d="M112.8 4.5H120V10H112.8Z" fill="#22a8ff"/><path d="M109.2 3L112.8 4.5L112.8 10" fill="none" stroke="#d8f0ff" stroke-width="0.7"/><path d="M114.3 6.3L119 5.3V6.6L114.3 7.4Z" fill="#e8f6ff"/>
<path d="M110 16.6C106.6 16.6 106.4 12.6 109.4 12.2C109.8 9.6 113.4 9.4 114.6 11.2C116 9.2 119.6 9.8 119.8 12C123.4 11.8 123.6 16.6 120.4 16.6Z" fill="url(#cloudg)" stroke="#4a6cac" stroke-width="1.1"/>
<path d="M142.8 8.8V17A8.2 8.2 0 0 0 149.6 4.2Z" fill="url(#sweep)"/>
<circle cx="142.8" cy="8.8" r="7.6" fill="none" stroke="#a8bce8" stroke-width="1.1" opacity="0.85"/><circle cx="142.8" cy="8.8" r="4.9" fill="none" stroke="#86a4e0" stroke-width="1.1" opacity="0.9"/><circle cx="142.6" cy="8.6" r="1.9" fill="#2a5ccc"/>
<path d="M143.6 16.4A7.6 7.6 0 0 0 149.6 5.4" fill="none" stroke="#4cae4c" stroke-width="1.7" opacity="0.85"/><rect x="143" y="9" width="1.4" height="8" fill="#20a020"/>
<path d="M162.3 8.2L178 7.4L171.5 16.8H168.8Z" fill="url(#face)" stroke="#d0a018" stroke-width="0.8" stroke-linejoin="round"/>
<ellipse cx="170" cy="6" rx="8.2" ry="2.5" fill="#4fa4dc" stroke="#2a84b8" stroke-width="0.7"/><path d="M166.6 5.4C166.6 -0.2 173 -0.2 173 5.4Z" fill="#62b4e8" stroke="#2a84b8" stroke-width="0.6"/>
<circle cx="174.4" cy="12.8" r="4.2" fill="#dc2408"/><rect x="172.9" y="11.3" width="3.1" height="3.1" fill="#fff"/>
<rect x="238" y="0" width="1" height="20" fill="#a0a0a0" shape-rendering="crispEdges"/>
<rect x="239" y="0" width="1" height="20" fill="#fff" shape-rendering="crispEdges"/>
<rect x="242" y="1" width="3" height="1" fill="#a8a8a8" shape-rendering="crispEdges"/>
<rect x="242" y="3" width="3" height="1" fill="#a8a8a8" shape-rendering="crispEdges"/>
<rect x="242" y="5" width="3" height="1" fill="#a8a8a8" shape-rendering="crispEdges"/>
<rect x="242" y="7" width="3" height="1" fill="#a8a8a8" shape-rendering="crispEdges"/>
<rect x="242" y="9" width="3" height="1" fill="#a8a8a8" shape-rendering="crispEdges"/>
<rect x="242" y="11" width="3" height="1" fill="#a8a8a8" shape-rendering="crispEdges"/>
<rect x="242" y="13" width="3" height="1" fill="#a8a8a8" shape-rendering="crispEdges"/>
<rect x="242" y="15" width="3" height="1" fill="#a8a8a8" shape-rendering="crispEdges"/>
<rect x="242" y="17" width="3" height="1" fill="#a8a8a8" shape-rendering="crispEdges"/>
<use href="#axes" x="254" y="0"/>
<path d="M262.5 4V13M260 11.5H262M263 5.5H265" stroke="#168a16" stroke-width="1" fill="none" shape-rendering="crispEdges"/>
<rect x="276" y="0" width="1" height="19" fill="#a0a0a0" shape-rendering="crispEdges"/>
<rect x="277" y="0" width="25" height="19" fill="url(#chk)" shape-rendering="crispEdges"/>
<use href="#axes" x="282" y="0"/>
<rect x="290" y="1" width="1" height="12" fill="#0e8a0e" shape-rendering="crispEdges"/><rect x="288.5" y="3.5" width="4" height="7" fill="url(#gcan)" stroke="#0e8a0e" stroke-width="1"/>
<use href="#axes" x="310" y="0"/>
<path d="M311.5 11.5C314 9 315.5 6 317.5 6C319.5 6 321 9.5 323.5 10" stroke="#2a9a2a" stroke-width="1.2" fill="none"/>
<rect x="333" y="0" width="1" height="19" fill="#a0a0a0" shape-rendering="crispEdges"/>
<use href="#zoomg" x="348" y="6.8"/><path d="M345 6.8H351M348 3.8V9.8" stroke="#3a7ca8" stroke-width="1.7"/>
<use href="#zoomg" x="376.2" y="6.8"/><path d="M373.2 6.8H379.2" stroke="#3a7ca8" stroke-width="1.7"/>
<rect x="398" y="1" width="8" height="8" fill="#3c9c1c" shape-rendering="crispEdges"/><rect x="399" y="3.8" width="6" height="4.4" fill="#fff"/><rect x="400.2" y="5.2" width="3.6" height="1" fill="#3c9c1c" opacity="0.45"/><rect x="399" y="1.8" width="1" height="1" fill="#fff" opacity="0.8"/>
<rect x="406" y="1" width="8" height="8" fill="#2458cc" shape-rendering="crispEdges"/><rect x="407" y="3.8" width="6" height="4.4" fill="#fff"/><rect x="408.2" y="5.2" width="3.6" height="1" fill="#2458cc" opacity="0.45"/><rect x="407" y="1.8" width="1" height="1" fill="#fff" opacity="0.8"/>
<rect x="398" y="9" width="8" height="8" fill="#2458cc" shape-rendering="crispEdges"/><rect x="399" y="11.8" width="6" height="4.4" fill="#fff"/><rect x="400.2" y="13.2" width="3.6" height="1" fill="#2458cc" opacity="0.45"/><rect x="399" y="9.8" width="1" height="1" fill="#fff" opacity="0.8"/>
<rect x="406" y="9" width="8" height="8" fill="#3c9c1c" shape-rendering="crispEdges"/><rect x="407" y="11.8" width="6" height="4.4" fill="#fff"/><rect x="408.2" y="13.2" width="3.6" height="1" fill="#3c9c1c" opacity="0.45"/><rect x="407" y="9.8" width="1" height="1" fill="#fff" opacity="0.8"/>
<rect x="423" y="0" width="1" height="19" fill="#a0a0a0" shape-rendering="crispEdges"/>
<rect x="428" y="0" width="1" height="19" fill="#a0a0a0" shape-rendering="crispEdges"/>
<rect x="429" y="0" width="24" height="19" fill="url(#chk)" shape-rendering="crispEdges"/>
<use href="#axes" x="434" y="0"/><path d="M441.5 5.5L445 8.5L441.5 11.5Z" fill="#7de07d" stroke="#18981a" stroke-width="1"/>
<rect x="456" y="0" width="1" height="19" fill="#a0a0a0" shape-rendering="crispEdges"/>
<rect x="457" y="0" width="25" height="19" fill="url(#chk)" shape-rendering="crispEdges"/>
<use href="#axes" x="462" y="0"/><rect x="470" y="3" width="1" height="10" fill="#1874b0" shape-rendering="crispEdges"/><path d="M472 8.5H476.5M474.5 6L472 8.5L474.5 11" stroke="#d04800" stroke-width="1.2" fill="none"/>
<rect x="485" y="0" width="1" height="19" fill="#a0a0a0" shape-rendering="crispEdges"/>
<path d="M496.5 1.5H503.5L506.5 4.5V12.5Q506.5 13.5 505.5 13.5H496.5Q495.5 13.5 495.5 12.5V2.5Q495.5 1.5 496.5 1.5Z" fill="#fff" stroke="#6c6c6c" stroke-width="1"/><path d="M503.5 1.5V4.5H506.5" fill="#f4f4f4" stroke="#6c6c6c" stroke-width="0.9"/><path d="M499 4C497.5 4.5 497.5 9.5 499 10" stroke="#555" stroke-width="0.9" fill="none"/>
<path d="M503.5 7.5H506.5V11.5H510.5V14.5H506.5V18.5H503.5V14.5H499.5V11.5H503.5Z" fill="url(#gplus)" stroke="#0a8a0a" stroke-width="1"/>
<use href="#dd" x="517" y="8"/>
<circle cx="541" cy="9" r="8" fill="#0a44a8"/><circle cx="541" cy="9" r="6.6" fill="#fff" stroke="url(#clk)" stroke-width="2.5"/><path d="M540.5 5V9.5H544" stroke="#111" stroke-width="1.2" fill="none"/><path d="M541 3.6V4.4M541 13.6V14.4M535.6 9H536.4M545.6 9H546.4" stroke="#888" stroke-width="0.8"/>
<use href="#dd" x="556" y="8"/>
<rect x="572.5" y="2.5" width="15" height="13" fill="#fff" stroke="#3a78c8" stroke-width="1"/><rect x="573" y="3" width="14" height="2.2" fill="#6ca4e8"/><rect x="573" y="9.6" width="14" height="1.2" fill="#6ca4e8"/>
<path d="M574.5 8.5L577 7.2L579 6.5L581 7.3L583 7L585.5 6.2" stroke="#a82010" stroke-width="1.2" fill="none"/><path d="M575 13.5L577.5 12.6L579.5 13.2L582.5 11.5L585.5 13.6" stroke="#1a9a2a" stroke-width="1.2" fill="none"/>
<use href="#dd" x="595" y="8"/>
<rect x="606" y="0" width="1" height="20" fill="#a0a0a0" shape-rendering="crispEdges"/>
<rect x="607" y="0" width="1" height="20" fill="#fff" shape-rendering="crispEdges"/>
<rect x="610" y="1" width="3" height="1" fill="#a8a8a8" shape-rendering="crispEdges"/>
<rect x="610" y="3" width="3" height="1" fill="#a8a8a8" shape-rendering="crispEdges"/>
<rect x="610" y="5" width="3" height="1" fill="#a8a8a8" shape-rendering="crispEdges"/>
<rect x="610" y="7" width="3" height="1" fill="#a8a8a8" shape-rendering="crispEdges"/>
<rect x="610" y="9" width="3" height="1" fill="#a8a8a8" shape-rendering="crispEdges"/>
<rect x="610" y="11" width="3" height="1" fill="#a8a8a8" shape-rendering="crispEdges"/>
<rect x="610" y="13" width="3" height="1" fill="#a8a8a8" shape-rendering="crispEdges"/>
<rect x="610" y="15" width="3" height="1" fill="#a8a8a8" shape-rendering="crispEdges"/>
<rect x="610" y="17" width="3" height="1" fill="#a8a8a8" shape-rendering="crispEdges"/>
<rect x="616" y="0" width="1" height="19" fill="#a0a0a0" shape-rendering="crispEdges"/>
<rect x="617" y="0" width="25" height="19" fill="url(#chk)" shape-rendering="crispEdges"/>
<path d="M624 2V13.2L626.6 10.8L629 16.2L631 15.3L628.6 10H632.2Z" fill="#4a4a4a"/>
<path d="M656.5 2V8M656.5 11V17M649 9.5H655M658 9.5H664" stroke="#444" stroke-width="1.3" fill="none"/><rect x="656" y="9" width="1" height="1" fill="#777"/>
<rect x="673" y="0" width="1" height="19" fill="#a0a0a0" shape-rendering="crispEdges"/>
<path d="M690.5 3V16" stroke="#444" stroke-width="1.4"/>
<path d="M713 9.5H725" stroke="#444" stroke-width="1.4"/>
<path d="M741 15.8L753 4" stroke="#444" stroke-width="1.2"/>
<path d="M767 11L776 3M769.5 15.5L781.5 5.5M768 14.5L778.5 1.5" stroke="#444" stroke-width="1" fill="none"/><path d="M770 8L772 14M773 6L775 12M776 3.5L778.5 9.5" stroke="#444" stroke-width="0.9" fill="none"/>
<line x1="796" y1="2.5" x2="809" y2="2.5" stroke="#444" stroke-width="1" stroke-dasharray="1 1" shape-rendering="crispEdges"/>
<line x1="796" y1="5.5" x2="809" y2="5.5" stroke="#444" stroke-width="1" stroke-dasharray="1 1" shape-rendering="crispEdges"/>
<line x1="796" y1="9.5" x2="809" y2="9.5" stroke="#444" stroke-width="1" stroke-dasharray="1 1" shape-rendering="crispEdges"/>
<line x1="796" y1="13.5" x2="805" y2="13.5" stroke="#444" stroke-width="1" stroke-dasharray="1 1" shape-rendering="crispEdges"/>
<rect x="853.5" y="3.5" width="11" height="12" fill="none" stroke="#444" stroke-width="1" stroke-dasharray="1 1" shape-rendering="crispEdges"/>
<path d="M883.5 2.5L887 6H880Z M880 6.5H887L883.5 8.5Z" fill="#444"/><path d="M890.5 16.5L887 13H894Z M887 12.5H894L890.5 10.5Z" fill="#444"/><path d="M882.5 10.5L884.5 12.5L889.5 6.5" stroke="#444" stroke-width="1.2" fill="none"/>
<use href="#dd" x="901" y="8"/>
<rect x="912" y="0" width="1" height="20" fill="#a0a0a0" shape-rendering="crispEdges"/>
<rect x="913" y="0" width="1" height="20" fill="#fff" shape-rendering="crispEdges"/>
<rect x="916" y="1" width="3" height="1" fill="#a8a8a8" shape-rendering="crispEdges"/>
<rect x="916" y="3" width="3" height="1" fill="#a8a8a8" shape-rendering="crispEdges"/>
<rect x="916" y="5" width="3" height="1" fill="#a8a8a8" shape-rendering="crispEdges"/>
<rect x="916" y="7" width="3" height="1" fill="#a8a8a8" shape-rendering="crispEdges"/>
<rect x="916" y="9" width="3" height="1" fill="#a8a8a8" shape-rendering="crispEdges"/>
<rect x="916" y="11" width="3" height="1" fill="#a8a8a8" shape-rendering="crispEdges"/>
<rect x="916" y="13" width="3" height="1" fill="#a8a8a8" shape-rendering="crispEdges"/>
<rect x="916" y="15" width="3" height="1" fill="#a8a8a8" shape-rendering="crispEdges"/>
<rect x="916" y="17" width="3" height="1" fill="#a8a8a8" shape-rendering="crispEdges"/>
<rect x="1062" y="0" width="1" height="19" fill="#a0a0a0" shape-rendering="crispEdges"/>
<rect x="1063" y="0" width="25" height="19" fill="url(#chk)" shape-rendering="crispEdges"/>
<rect x="1173" y="0" width="1" height="20" fill="#a0a0a0" shape-rendering="crispEdges"/>
<circle cx="1643.7" cy="6.3" r="4" fill="#f8faff" stroke="#2e62d0" stroke-width="1.2"/><path d="M1640.6 9.4L1636.2 13.6" stroke="#2458cc" stroke-width="2.3" stroke-linecap="round"/>
<path d="M1660.3 10.5C1660.3 5 1672 5 1672 10.5C1672 14.5 1667 15.3 1664.5 15.2L1663 17.6L1663.2 15C1661 14.3 1660.3 12.5 1660.3 10.5Z" fill="#e6e6f0" stroke="#a8a8a8" stroke-width="1"/>
<circle cx="1674.5" cy="6.5" r="8.2" fill="url(#badge)"/>
</svg>
<span class="cn" style="left:31px;top:1px;">新订单</span>
<span class="cn" style="left:183px;top:1px;">自动交易</span>
<span class="tb" style="left:927px;top:6px;">M1</span>
<span class="tb" style="left:955px;top:6px;">M5</span>
<span class="tb" style="left:981px;top:6px;">M15</span>
<span class="tb" style="left:1009px;top:6px;">M30</span>
<span class="tb" style="left:1040px;top:6px;">H1</span>
<span class="tb" style="left:1067px;top:6px;">H4</span>
<span class="tb" style="left:1096px;top:6px;">D1</span>
<span class="tb" style="left:1123px;top:6px;">W1</span>
<span class="tb" style="left:1150px;top:6px;">MN</span>
<span class="ic" style="left:778px;top:10px;">E</span>
<span class="ic" style="left:806px;top:10px;">F</span>
<span class="ia" style="left:826.5px;top:1px;">A</span>
<span class="it" style="left:855.3px;top:4px;">T</span>
<span class="bd" style="left:1670.3px;top:1px;">1</span>
</body></html>
